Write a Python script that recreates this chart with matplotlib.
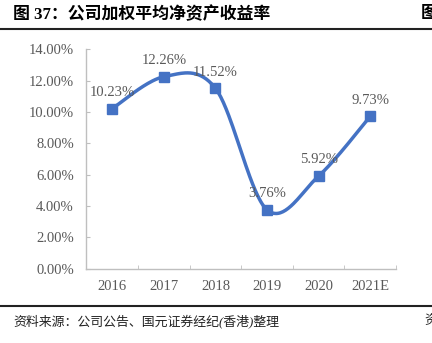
import numpy as np
import matplotlib
matplotlib.use("Agg")
import matplotlib.pyplot as plt
from matplotlib.lines import Line2D

years = ["2016", "2017", "2018", "2019", "2020", "2021E"]
roe = [10.23, 12.26, 11.52, 3.76, 5.92, 9.73]
yticks = [0, 2, 4, 6, 8, 10, 12, 14]

title = "图 37：公司加权平均净资产收益率"
source = "资料来源：公司公告、国元证券经纪(香港)整理"

blue = "#4472C4"
gray = "#595959"
serif = ["Liberation Serif", "Noto Sans CJK SC"]


def smooth(x, y, n=40):
    # Excel style smoothed line: cubic bezier, control points from neighbours
    x = np.asarray(x, float)
    y = np.asarray(y, float)
    px = np.concatenate([[x[0]], x, [x[-1]]])
    py = np.concatenate([[y[0]], y, [y[-1]]])
    xs, ys = [], []
    t = np.linspace(0, 1, n)
    for i in range(len(x) - 1):
        p0 = np.array([px[i + 1], py[i + 1]])
        p3 = np.array([px[i + 2], py[i + 2]])
        p1 = p0 + (np.array([px[i + 2], py[i + 2]]) - np.array([px[i], py[i]])) / 6
        p2 = p3 - (np.array([px[i + 3], py[i + 3]]) - np.array([px[i + 1], py[i + 1]])) / 6
        b = ((1 - t) ** 3)[:, None] * p0 + (3 * (1 - t) ** 2 * t)[:, None] * p1 \
            + (3 * (1 - t) * t ** 2)[:, None] * p2 + (t ** 3)[:, None] * p3
        xs.extend(b[:, 0])
        ys.extend(b[:, 1])
    return np.array(xs), np.array(ys)


fig = plt.figure(figsize=(4.32, 3.43), dpi=100)
ax = fig.add_axes([0.2002, 0.2166, 0.7165, 0.6391])

x = np.arange(len(years))
sx, sy = smooth(x, roe)
ax.plot(sx, sy, color=blue, lw=2.5, solid_capstyle="round", zorder=2)
ax.plot(x, roe, ls="none", marker="s", ms=6.5, color=blue, zorder=3)

for xi, v in zip(x, roe):
    ax.annotate(f"{v:.2f}%", (xi, v), xytext=(0, 7), textcoords="offset points",
                ha="center", va="bottom", fontsize=10.5, color=gray,
                family="Liberation Serif")

ax.set_xlim(-0.5, len(years) - 0.5)
ax.set_ylim(0, 14)
ax.set_yticks(yticks)
ax.set_yticklabels([f"{v:.2f}%" for v in yticks], family="Liberation Serif",
                   fontsize=10.5, color=gray)
ax.set_xticks(x)
ax.set_xticklabels(years, family="Liberation Serif", fontsize=10.5, color=gray)
ax.set_xticks(np.arange(-0.5, len(years)), minor=True)
ax.tick_params(axis="x", which="major", length=0, pad=8)
ax.tick_params(axis="x", which="minor", direction="in", length=3, color="#BFBFBF")
ax.tick_params(axis="y", direction="in", length=3, color="#BFBFBF", pad=9)

for s in ["top", "right"]:
    ax.spines[s].set_visible(False)
for s in ["left", "bottom"]:
    ax.spines[s].set_color("#BFBFBF")
    ax.spines[s].set_linewidth(1)

fig.text(0.03, 0.958, title, fontsize=12.2, fontweight="bold", family=serif,
         va="center", ha="left")
fig.text(0.975, 0.958, "图", fontsize=12.2, fontweight="bold", family=serif,
         va="center", ha="left")
fig.add_artist(Line2D([0.0, 1.0], [0.914, 0.914], color="#222222", lw=1.5))

fig.add_artist(Line2D([0.0, 1.0], [0.108, 0.108], color="#222222", lw=1.5))
fig.text(0.03, 0.063, source, fontsize=9.3, family=serif, style="italic",
         va="center", ha="left", color="#222222")
fig.text(0.982, 0.063, "资", fontsize=9.3, family=serif, style="italic",
         va="center", ha="left", color="#222222")

fig.savefig("out.png", dpi=100)
